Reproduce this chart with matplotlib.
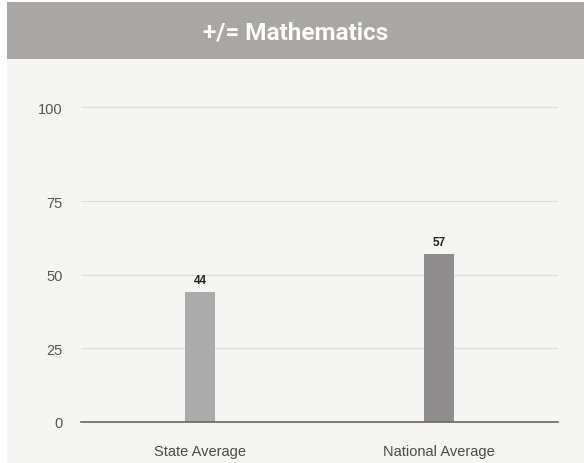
import matplotlib
matplotlib.use("Agg")
import matplotlib.pyplot as plt
import numpy as np

categories = ["State Average", "National Average"]
values = [44, 57]
bar_colors = ["#ababab", "#8f8d8d"]
yticks = [0, 25, 50, 75, 100]
title = "+/= Mathematics"

W, H = 584, 464
fig = plt.figure(figsize=(W / 100, H / 100), dpi=100)
fig.patch.set_facecolor("#f5f5f4")

# white strip on left and top, header band
fig.patches.append(plt.Rectangle((0, 0), 7 / W, 1, transform=fig.transFigure,
                                 facecolor="white", edgecolor="none", zorder=0))
fig.patches.append(plt.Rectangle((0, 1 - 3 / H), 1, 3 / H, transform=fig.transFigure,
                                 facecolor="white", edgecolor="none", zorder=0))
fig.patches.append(plt.Rectangle((7 / W, 1 - 60 / H), 1 - 7 / W, 57 / H,
                                 transform=fig.transFigure,
                                 facecolor="#a8a7a6", edgecolor="none", zorder=1))
fig.text(296 / W, 1 - 33 / H, title, color="white", fontsize=17.5,
         fontweight="bold", family="Roboto", ha="center", va="center")

# piecewise scale: top band (75-100) is stretched in the reference
k = 93.4 / 73.4
def fwd(y):
    y = np.asarray(y, dtype=float)
    return np.where(y <= 75, y, 75 + (y - 75) * k)
def inv(t):
    t = np.asarray(t, dtype=float)
    return np.where(t <= 75, t, 75 + (t - 75) / k)

top_px, bot_px = 70, 423
left_px, right_px = 81, 558
ax = fig.add_axes([left_px / W, 1 - bot_px / H, (right_px - left_px) / W,
                   (bot_px - top_px) / H])
ax.set_facecolor("none")
ax.set_yscale("function", functions=(fwd, inv))
ppu = (bot_px - 202) / 75.0
t_top = (bot_px - top_px) / ppu
ax.set_ylim(0, float(inv(t_top)))

x = np.arange(len(categories))
ax.bar(x, values, width=0.126, color=bar_colors, zorder=3)
ax.set_xlim(-0.5, len(categories) - 0.5)

for xi, v in zip(x, values):
    ax.annotate(str(v), (xi, v), xytext=(0, 4.5), textcoords="offset points",
                ha="center", va="bottom", fontsize=8.5, fontweight="bold",
                family="Liberation Sans", color="#222222")

ax.set_yticks(yticks)
ax.set_yticklabels([str(t) for t in yticks])
ax.yaxis.set_minor_locator(matplotlib.ticker.NullLocator())
ax.set_xticks(x)
ax.set_xticklabels(categories)
ax.tick_params(axis="y", length=0, pad=13, labelsize=10.5, labelcolor="#555555")
ax.tick_params(axis="x", length=0, pad=16, labelsize=10.5, labelcolor="#4a4a4a")
for lab in ax.get_xticklabels() + ax.get_yticklabels():
    lab.set_family("Liberation Sans")

ax.grid(axis="y", color="#dcdcdc", linewidth=0.8, zorder=0)
for s in ["top", "right", "left"]:
    ax.spines[s].set_visible(False)
ax.spines["bottom"].set_color("#666666")
ax.spines["bottom"].set_linewidth(1.2)
ax.spines["bottom"].set_zorder(4)

fig.savefig("out.png", dpi=100, facecolor=fig.get_facecolor())
